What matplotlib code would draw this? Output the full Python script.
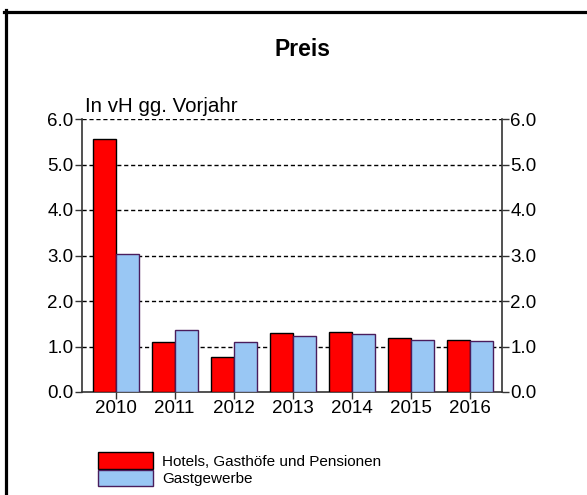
import matplotlib
matplotlib.use("Agg")
import numpy as np
import matplotlib.pyplot as plt
from matplotlib.lines import Line2D
from matplotlib.patches import Patch

plt.rcParams["font.family"] = ["Liberation Sans", "DejaVu Sans"]

# -----------------------------
# Data (in vH gg. Vorjahr)
# -----------------------------
years = ["2010", "2011", "2012", "2013", "2014", "2015", "2016"]
hotels = [5.55, 1.09, 0.78, 1.29, 1.32, 1.19, 1.15]
gastgewerbe = [3.03, 1.37, 1.09, 1.23, 1.27, 1.14, 1.11]
yticks = [0.0, 1.0, 2.0, 3.0, 4.0, 5.0, 6.0]

RED = "#FF0000"
BLUE = "#99C7F4"

W, H = 587, 495
fig = plt.figure(figsize=(W / 100, H / 100), dpi=100)
ax = fig.add_axes([82 / W, 1 - 392 / H, 420 / W, 273 / H])

x = np.arange(len(years))
bw = 0.39
ax.bar(x - bw / 2, hotels, bw, color=RED, edgecolor="black", linewidth=1.0, zorder=3)
ax.bar(x + bw / 2, gastgewerbe, bw, color=BLUE, edgecolor="#4A1D5C", linewidth=1.0, zorder=3)

ax.set_xlim(-0.57, 6.55)
ax.set_ylim(0, 6)
ax.set_xticks(x)
ax.set_xticklabels(years)
ax.set_yticks(yticks)
ax.set_yticklabels([f"{v:.1f}" for v in yticks])

ax.tick_params(axis="both", labelsize=13.5, length=5, width=1, color="#333333",
               direction="out", pad=1)
ax.tick_params(axis="y", right=True, labelright=True)

for side in ["left", "right", "bottom"]:
    ax.spines[side].set_color("#333333")
    ax.spines[side].set_linewidth(1.2)
ax.spines["top"].set_visible(False)

# dashed gridlines incl. top line at 6.0
for v in yticks[1:]:
    ax.axhline(v, color="black", linestyle=(0, (3, 2)), linewidth=1.0, zorder=1)

# titles
fig.text(303 / W, 1 - 50 / H, "Preis", ha="center", va="center",
         fontsize=16.5, fontweight="bold")
fig.text(85 / W, 1 - 112 / H, "In vH gg. Vorjahr", ha="left", va="baseline",
         fontsize=14.8)

# legend
handles = [Patch(facecolor=RED, edgecolor="black", linewidth=1.0),
           Patch(facecolor=BLUE, edgecolor="#4A1D5C", linewidth=1.0)]
fig.legend(handles, ["Hotels, Gasthöfe und Pensionen", "Gastgewerbe"],
           loc="upper left", bbox_to_anchor=(92 / W, 1 - 446 / H),
           frameon=False, fontsize=11, handlelength=3.6, handleheight=1.3,
           handletextpad=0.6, labelspacing=0.05, borderaxespad=0)

# outer frame (top and left only)
fig.add_artist(Line2D([4 / W, 1], [1 - 11.5 / H, 1 - 11.5 / H],
                      color="black", linewidth=2.3, transform=fig.transFigure))
fig.add_artist(Line2D([5.5 / W, 5.5 / W], [0, 1 - 10 / H],
                      color="black", linewidth=2.3, transform=fig.transFigure))

fig.savefig("out.png", dpi=100)
